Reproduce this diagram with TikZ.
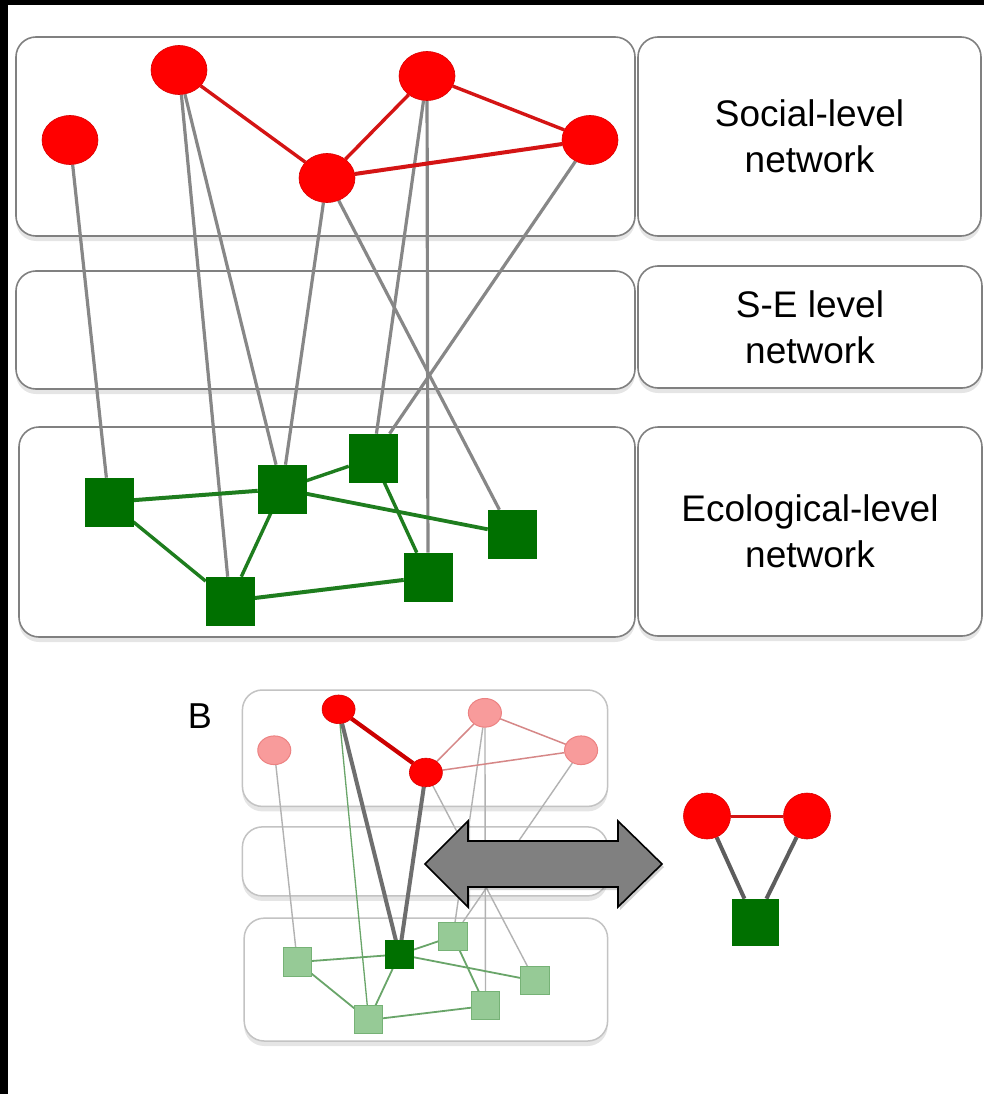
\documentclass[tikz,border=0pt]{standalone}
\usepackage{fontspec}
\setmainfont{Liberation Sans}
\usetikzlibrary{shapes.geometric,shadows}
\definecolor{nodered}{RGB}{255,0,0}
\definecolor{edgered}{RGB}{212,20,20}
\definecolor{nodegreen}{RGB}{0,112,0}
\definecolor{edgegreen}{RGB}{30,125,30}
\definecolor{linkgray}{RGB}{135,135,135}
\definecolor{boxgray}{RGB}{128,128,128}
\definecolor{fadered}{RGB}{248,155,155}
\definecolor{fadereddraw}{RGB}{236,130,130}
\definecolor{fadeedgered}{RGB}{214,135,135}
\definecolor{fadegreen}{RGB}{150,202,150}
\definecolor{fadegreendraw}{RGB}{118,178,118}
\definecolor{fadeedgegreen}{RGB}{105,165,105}
\definecolor{fadegray}{RGB}{178,178,178}
\definecolor{lightbox}{RGB}{195,195,195}
\definecolor{darklink}{RGB}{110,110,110}
\definecolor{arrowgray}{RGB}{128,128,128}
\pgfdeclarelayer{bg}
\pgfdeclarelayer{links}
\pgfsetlayers{bg,links,main}
\begin{document}
\begin{tikzpicture}[x=1pt,y=-1pt,
  panel/.style={draw=boxgray, line width=1.6pt, rounded corners=20pt, fill=white, inner sep=0pt,
    drop shadow={shadow xshift=0pt, shadow yshift=-5pt, opacity=0.10, fill=black}},
  lpanel/.style={panel, draw=lightbox, line width=1.5pt},
  labeltext/.style={align=center, font=\fontsize{37}{46}\selectfont},
  soc/.style={ellipse, fill=nodered, draw=red!85!black, line width=0.6pt, minimum width=56pt, minimum height=49pt, inner sep=0pt},
  eco/.style={rectangle, fill=nodegreen, draw=nodegreen, line width=0.6pt, minimum width=48pt, minimum height=48pt, inner sep=0pt},
  fsoc/.style={soc, fill=fadered, draw=fadereddraw, line width=1pt},
  feco/.style={eco, fill=fadegreen, draw=fadegreendraw, line width=1pt},
  redlink/.style={draw=edgered, line width=3.4pt},
  greenlink/.style={draw=edgegreen, line width=3.4pt},
  graylink/.style={draw=linkgray, line width=3.2pt},
  fredlink/.style={draw=fadeedgered, line width=1.5pt},
  fgreenlink/.style={draw=fadeedgegreen, line width=1.8pt},
  fgraylink/.style={draw=fadegray, line width=1.4pt},
  hredlink/.style={draw=red!80!black, line width=4.2pt},
  hgraylink/.style={draw=darklink, line width=4pt},
]
\useasboundingbox (0,0) rectangle (984,1094);
\begin{pgfonlayer}{bg}
\fill[black] (0,0) rectangle (984,1094);
\fill[white] (8,5) rectangle (984,1094);
\end{pgfonlayer}

% ---------------- Panel A ----------------
\begin{pgfonlayer}{bg}
\node[panel, minimum width=619pt, minimum height=199pt] (socP) at (325.5,136.5) {};
\node[panel, minimum width=619pt, minimum height=118pt] (seP) at (325.5,330) {};
\node[panel, minimum width=616pt, minimum height=210pt] (ecoP) at (327,532) {};
\node[panel, labeltext, minimum width=343pt, minimum height=199pt] (socL) at (809.5,136.5) {Social-level\\network};
\node[panel, labeltext, minimum width=344pt, minimum height=122pt] (seL) at (810,327) {S-E level\\network};
\node[panel, labeltext, minimum width=344pt, minimum height=209pt] (ecoL) at (810,531.5) {Ecological-level\\network};
\end{pgfonlayer}

\node[soc] (s1) at (70,140) {};
\node[soc] (s2) at (179,70) {};
\node[soc] (s3) at (327,178) {};
\node[soc] (s4) at (427,76) {};
\node[soc] (s5) at (590,140) {};
\node[eco] (e1) at (109,502) {};
\node[eco] (e2) at (282,489) {};
\node[eco] (e3) at (373,458) {};
\node[eco] (e4) at (512,534) {};
\node[eco] (e5) at (428,577) {};
\node[eco] (e6) at (230,601) {};

\begin{pgfonlayer}{links}
\draw[graylink] (s1) -- (e1);
\draw[graylink] (s2) -- (e6);
\draw[graylink] (s2) -- (e2);
\draw[graylink] (s3) -- (e2);
\draw[graylink] (s3) -- (e4);
\draw[graylink] (s4) -- (e3);
\draw[graylink] (s4) -- (e5);
\draw[graylink] (s5) -- (e3);
\draw[redlink] (s2) -- (s3);
\draw[redlink] (s3) -- (s4);
\draw[redlink] (s4) -- (s5);
\draw[redlink, line width=4pt] (s3) -- (s5);
\draw[greenlink, line width=4pt] (e1) -- (e2);
\draw[greenlink] (e1) -- (e6);
\draw[greenlink] (e2) -- (e3);
\draw[greenlink] (e2) -- (e6);
\draw[greenlink, line width=3.8pt] (e2) -- (e4);
\draw[greenlink] (e3) -- (e5);
\draw[greenlink, line width=4pt] (e6) -- (e5);
\end{pgfonlayer}

% ---------------- Panel B ----------------
\node[font=\fontsize{36}{40}\selectfont] (blabel) at (200,716) {B};

\begin{scope}[shift={(232.97,668.355)}, xscale=0.59, yscale=0.585, transform shape]
\begin{pgfonlayer}{bg}
\node[lpanel, minimum width=619pt, minimum height=199pt] (bsocP) at (325.5,136.5) {};
\node[lpanel, minimum width=619pt, minimum height=118pt] (bseP) at (325.5,330) {};
\node[lpanel, minimum width=616pt, minimum height=210pt] (becoP) at (327,532) {};
\end{pgfonlayer}
\node[fsoc] (bs1) at (70,140) {};
\node[soc] (bs2) at (179,70) {};
\node[soc] (bs3) at (327,178) {};
\node[fsoc] (bs4) at (427,76) {};
\node[fsoc] (bs5) at (590,140) {};
\node[feco] (be1) at (109,502) {};
\node[eco] (be2) at (282,489) {};
\node[feco] (be3) at (373,458) {};
\node[feco] (be4) at (512,534) {};
\node[feco] (be5) at (428,577) {};
\node[feco] (be6) at (230,601) {};
\begin{pgfonlayer}{links}
\draw[fgraylink] (bs1) -- (be1);
\draw[fgreenlink, line width=1.3pt] (bs2) -- (be6);
\draw[fgraylink] (bs3) -- (be4);
\draw[fgraylink] (bs4) -- (be3);
\draw[fgraylink] (bs4) -- (be5);
\draw[fgraylink] (bs5) -- (be3);
\draw[fredlink] (bs3) -- (bs4);
\draw[fredlink] (bs4) -- (bs5);
\draw[fredlink] (bs3) -- (bs5);
\draw[fgreenlink] (be1) -- (be2);
\draw[fgreenlink] (be1) -- (be6);
\draw[fgreenlink] (be2) -- (be3);
\draw[fgreenlink] (be2) -- (be6);
\draw[fgreenlink] (be2) -- (be4);
\draw[fgreenlink] (be3) -- (be5);
\draw[fgreenlink] (be6) -- (be5);
\draw[hgraylink] (bs2) -- (be2);
\draw[hgraylink] (bs3) -- (be2);
\draw[hredlink] (bs2) -- (bs3);
\end{pgfonlayer}
\end{scope}

% double arrow
\filldraw[fill=arrowgray, draw=black, line width=1.6pt, line join=miter,
  drop shadow={shadow xshift=2pt, shadow yshift=-3pt, opacity=0.18, fill=black}]
  (425,864) -- (468,821) -- (468,841) -- (618,841) -- (618,821) -- (662,864)
  -- (618,907) -- (618,887) -- (468,887) -- (468,907) -- cycle;

% motif on the right
\node[soc, minimum width=47pt, minimum height=46pt] (m1) at (707,816) {};
\node[soc, minimum width=47pt, minimum height=46pt] (m2) at (807,816) {};
\node[eco, minimum width=46pt, minimum height=46pt] (m3) at (755,922) {};
\begin{pgfonlayer}{links}
\draw[draw=edgered, line width=3pt] (m1) -- (m2);
\draw[draw=darklink!85!black, line width=4pt] (m1) -- (m3);
\draw[draw=darklink!85!black, line width=4pt] (m2) -- (m3);
\end{pgfonlayer}
\end{tikzpicture}
\end{document}
